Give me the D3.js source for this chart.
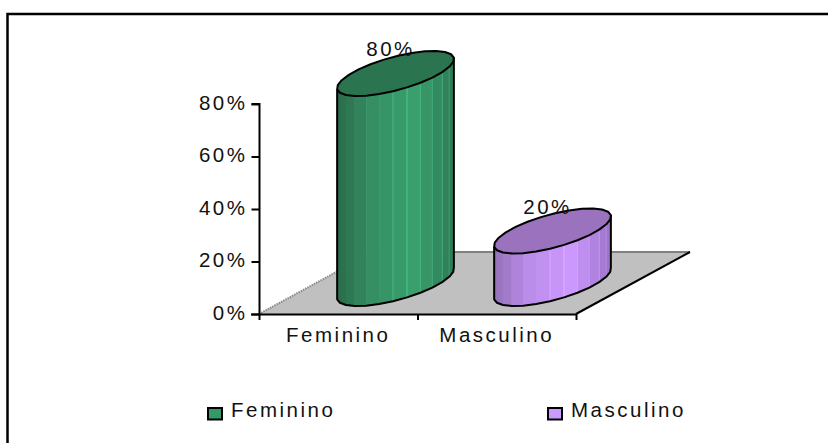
<!DOCTYPE html>
<html><head><meta charset="utf-8">
<script src="https://cdn.jsdelivr.net/npm/d3@7"></script>
<style>html,body{margin:0;padding:0;background:#fff;overflow:hidden}svg{display:block}text{font-family:"Liberation Sans",Arial,sans-serif;fill:#111}</style>
</head><body><svg id="c" width="828" height="443"></svg>
<script>
const categories=["Feminino","Masculino"];
const values=[80,20];
const labels=["80%","20%"];
const yTicks=[0,20,40,60,80];
const bodyStops=[["#2a6b4a","#3a9f6e","#2e7a54"],["#9470b8","#cc99ff","#9a72c4"]];
const topColors=["#2a7550","#9b72bd"];
const legendColors=["#339966","#cc99ff"];
const svg=d3.select("#c");
svg.append("path").attr("d","M7.5,443V14H828").attr("fill","none").attr("stroke","#000").attr("stroke-width",2.5);
const y=d3.scaleLinear().domain([0,80]).range([314,104]);
const x=d3.scaleBand().domain(categories).range([259,576]);
const depth=[114,-62];
const fs=20.5,ls=2.5;
const x0=259,x1=576,yb=y(0);
svg.append("path").attr("d",d3.line()([[x0,yb],[x1,yb],[x1+depth[0],yb+depth[1]],[x0+depth[0],yb+depth[1]]])+"Z").attr("fill","#c0c0c0");
svg.append("line").attr("x1",x0+depth[0]).attr("y1",yb+depth[1]).attr("x2",x1+depth[0]).attr("y2",yb+depth[1]).attr("stroke","#808080").attr("stroke-width",2);
svg.append("line").attr("x1",x0).attr("y1",yb).attr("x2",x0+depth[0]).attr("y2",yb+depth[1]).attr("stroke","#888").attr("stroke-width",2).attr("stroke-dasharray","1.5 1");
svg.append("line").attr("x1",x1).attr("y1",yb).attr("x2",x1+depth[0]).attr("y2",yb+depth[1]).attr("stroke","#000").attr("stroke-width",2);
const N=26,Ax=44.5,Bx=38,By=-22.5;
const pt=(cx,cy,t)=>[cx+Ax*Math.cos(t)+Bx*Math.sin(t),cy+By*Math.sin(t)];
const g=svg.append("g");
const depthShift=[57.25,55.75];
const brighten=[.55,.3];
values.forEach((v,i)=>{
  const cx=x(categories[i])+x.bandwidth()/2+depthShift[i];
  const base=yb-30.5, top=base-(y(0)-y(v));
  const ts=d3.range(N).map(k=>k/N*2*Math.PI+0.06);
  const peri=cy=>ts.map(t=>pt(cx,cy,t));
  const pb=peri(base),pu=peri(top);
  const xs=pb.map(p=>p[0]);const xmin=d3.min(xs),xmax=d3.max(xs);
  const col=d3.scaleLinear().domain([xmin,xmin+(xmax-xmin)*.3,xmin+(xmax-xmin)*.68,xmax]).range([bodyStops[i][0],d3.interpolateRgb(bodyStops[i][0],bodyStops[i][1])(.7),bodyStops[i][1],bodyStops[i][2]]);
  const tL=Math.PI+Math.atan2(Bx,Ax);
  const vis=d3.range(N).filter(k=>{const t=ts[k]+Math.PI/N;
    const u=(t-tL+4*Math.PI)%(2*Math.PI);return u<Math.PI;});
  vis.forEach(k=>{const a=pb[k],b=pb[(k+1)%N],c=pu[(k+1)%N],d=pu[k];
    const m=(a[0]+b[0])/2;
    const light=m>xmin+(xmax-xmin)*.45;
    g.append("path").attr("d",d3.line()([a,b,c,d])+"Z").attr("fill",col(m)).attr("stroke",light?d3.color(col(m)).brighter(brighten[i]):col(m)).attr("stroke-width",light?1:.5);
  });
  const lIdx=d3.least(d3.range(N),k=>pb[k][0]),rIdx=d3.greatest(d3.range(N),k=>pb[k][0]);
  const lower=[];let k=lIdx;lower.push(pb[k]);
  while(k!==rIdx){k=(k+1)%N;lower.push(pb[k]);}
  g.append("path").attr("d",d3.line()([pu[lIdx],...lower,pu[rIdx]])).attr("fill","none").attr("stroke","#000").attr("stroke-width",2).attr("stroke-linejoin","round");
  g.append("path").attr("d",d3.line()(pu)+"Z").attr("fill",topColors[i]).attr("stroke","#000").attr("stroke-width",2).attr("stroke-linejoin","round");
  g.append("text").attr("x",cx-5).attr("y",top-17.5).attr("text-anchor","middle").attr("font-size",fs).attr("letter-spacing",ls).text(labels[i]);
});
const ya=svg.append("g").attr("transform","translate(259.5,0)").call(d3.axisLeft(y).tickValues(yTicks).tickSize(8).tickFormat(d=>d+"%"));
ya.attr("font-family",null);
ya.select(".domain").attr("stroke","#000").attr("stroke-width",2).attr("d",`M-8,${y(80)}H0V${y(0)}`).attr("fill","none");
ya.selectAll("line").attr("stroke","#000").attr("stroke-width",2);
ya.selectAll("text").attr("font-size",fs).attr("letter-spacing",ls).attr("x",-12).attr("font-family",null).attr("dy",".36em").attr("y",-2);
const tickX=[259,...categories.map(c=>x(c)+x.bandwidth())];
const xa=svg.append("g");
xa.append("line").attr("x1",251).attr("x2",577).attr("y1",yb+.5).attr("y2",yb+.5).attr("stroke","#000").attr("stroke-width",2);
xa.selectAll("line.t").data(tickX).enter().append("line").attr("class","t").attr("x1",d=>d+.5).attr("x2",d=>d+.5).attr("y1",yb).attr("y2",yb+6).attr("stroke","#000").attr("stroke-width",2);
xa.selectAll("text").data(categories).enter().append("text").attr("x",d=>x(d)+x.bandwidth()/2).attr("y",yb+28).attr("text-anchor","middle").attr("font-size",fs).attr("letter-spacing",ls).text(d=>d);
const lg=d3.scaleOrdinal().domain(categories).range([208,548]);
categories.forEach((c,i)=>{
  svg.append("rect").attr("x",lg(c)).attr("y",408).attr("width",14).attr("height",11.5).attr("fill",legendColors[i]).attr("stroke","#000").attr("stroke-width",2);
  svg.append("text").attr("x",lg(c)+23).attr("y",417).attr("font-size",fs).attr("letter-spacing",ls).text(c);
});
</script></body></html>
